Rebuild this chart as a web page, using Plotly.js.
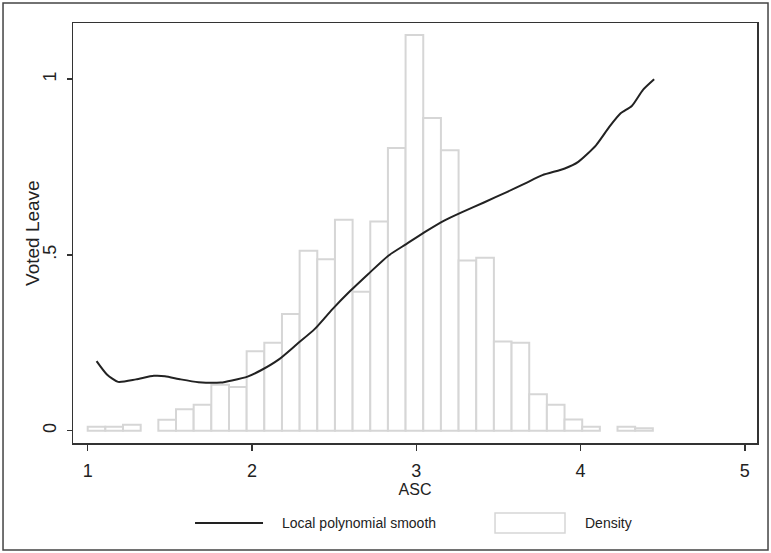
<!DOCTYPE html>
<html>
<head>
<meta charset="utf-8">
<script src="https://cdn.plot.ly/plotly-3.0.1.min.js"></script>
<style>
  html, body { margin: 0; padding: 0; background: #fff; }
  #chart { width: 771px; height: 553px; }
</style>
</head>
<body>
<div id="chart"></div>
<script>
// Histogram (density) values, 32 bins
const binStart = 1.0;
const binWidth = 0.1075;
const densityHeights = [0.011, 0.011, 0.017, null, 0.031, 0.061, 0.074, 0.131, 0.124, 0.226,
  0.250, 0.332, 0.512, 0.488, 0.600, 0.395, 0.595, 0.804, 1.126, 0.890,
  0.798, 0.484, 0.492, 0.254, 0.250, 0.104, 0.074, 0.032, 0.011, null,
  0.011, 0.007];

// Local polynomial smooth
const smoothX = [1.054, 1.117, 1.185, 1.294, 1.403, 1.470, 1.566, 1.674, 1.810, 1.878,
  1.973, 2.055, 2.164, 2.273, 2.381, 2.490, 2.599, 2.708, 2.830, 2.939,
  3.061, 3.170, 3.279, 3.415, 3.551, 3.660, 3.768, 3.904, 3.986, 4.094,
  4.176, 4.244, 4.312, 4.380, 4.448];
const smoothY = [0.198, 0.160, 0.139, 0.146, 0.156, 0.155, 0.146, 0.138, 0.137, 0.143,
  0.154, 0.172, 0.203, 0.246, 0.289, 0.346, 0.398, 0.446, 0.498, 0.531,
  0.568, 0.598, 0.622, 0.650, 0.679, 0.703, 0.727, 0.746, 0.765, 0.812,
  0.865, 0.903, 0.924, 0.970, 1.000];

// Axis ticks
const xTickVals = [1, 2, 3, 4, 5];
const xTickText = ["1", "2", "3", "4", "5"];
const yTickVals = [0, 0.5, 1];
const yTickText = ["0", ".5", "1"];

const xTitle = "ASC";
const yTitle = "Voted Leave";
const legendLabels = ["Local polynomial smooth", "Density"];

const binCenters = densityHeights.map((_, i) => binStart + binWidth * (i + 0.5));

const FONT = "Liberation Sans, Arial, Helvetica, sans-serif";
const DARK = "#333333";
const BARLINE = "#d6d6d6";

const traces = [
  {
    type: "bar",
    name: legendLabels[1],
    x: binCenters,
    y: densityHeights,
    width: binWidth,
    marker: { color: "#ffffff", line: { color: BARLINE, width: 2 } },
    showlegend: false
  },
  {
    type: "scatter",
    mode: "lines",
    name: legendLabels[0],
    x: smoothX,
    y: smoothY,
    line: { color: "#222222", width: 2, shape: "spline", smoothing: 0.6 },
    showlegend: false
  }
];

const layout = {
  width: 771,
  height: 553,
  margin: { l: 73, r: 14, t: 23, b: 110 },
  paper_bgcolor: "#ffffff",
  plot_bgcolor: "#ffffff",
  font: { family: FONT, color: "#222222", size: 16 },
  showlegend: false,
  xaxis: {
    range: [0.9105, 5.074],
    tickvals: xTickVals,
    ticktext: xTickText,
    ticks: "outside",
    ticklen: 6,
    tickwidth: 1.5,
    tickcolor: DARK,
    ticklabelstandoff: 5,
    tickfont: { size: 18, family: FONT, color: "#222" },
    showgrid: false,
    zeroline: false,
    showline: true,
    mirror: true,
    linecolor: DARK,
    linewidth: 1.5,
    title: { text: xTitle, font: { size: 16, family: FONT, color: "#222" }, standoff: 2 }
  },
  yaxis: {
    range: [-0.035, 1.16],
    tickvals: yTickVals,
    ticktext: yTickText,
    tickangle: -90,
    ticks: "outside",
    ticklen: 5,
    tickwidth: 1.5,
    tickcolor: DARK,
    ticklabelstandoff: 3,
    tickfont: { size: 18, family: FONT, color: "#222" },
    showgrid: false,
    zeroline: false,
    showline: true,
    mirror: true,
    linecolor: DARK,
    linewidth: 1.5
  },
  shapes: [
    // outer frame
    { type: "rect", xref: "paper", yref: "paper", x0: -0.1023, x1: 1.0161, y0: -0.2548, y1: 1.0476,
      line: { color: "#444", width: 1.5 }, fillcolor: "rgba(0,0,0,0)" },
    // legend line sample
    { type: "line", xref: "paper", yref: "paper", x0: 0.1784, x1: 0.2778, y0: -0.1905, y1: -0.1905,
      line: { color: "#222", width: 2 } },
    // legend box sample
    { type: "rect", xref: "paper", yref: "paper", x0: 0.617, x1: 0.7193, y0: -0.2143, y1: -0.1667,
      line: { color: BARLINE, width: 1.5 }, fillcolor: "#ffffff" }
  ],
  annotations: [
    // y-axis title
    { xref: "paper", yref: "paper", x: -0.06, y: 0.5, xanchor: "center", yanchor: "middle",
      textangle: -90, text: yTitle, showarrow: false, font: { size: 19, family: FONT, color: "#222" } },
    { xref: "paper", yref: "paper", x: 0.3026, y: -0.1905, xanchor: "left", yanchor: "middle",
      text: legendLabels[0], showarrow: false, font: { size: 14, family: FONT, color: "#222" } },
    { xref: "paper", yref: "paper", x: 0.7456, y: -0.1905, xanchor: "left", yanchor: "middle",
      text: legendLabels[1], showarrow: false, font: { size: 14, family: FONT, color: "#222" } }
  ]
};

Plotly.newPlot("chart", traces, layout, { staticPlot: true, displayModeBar: false });
</script>
</body>
</html>
